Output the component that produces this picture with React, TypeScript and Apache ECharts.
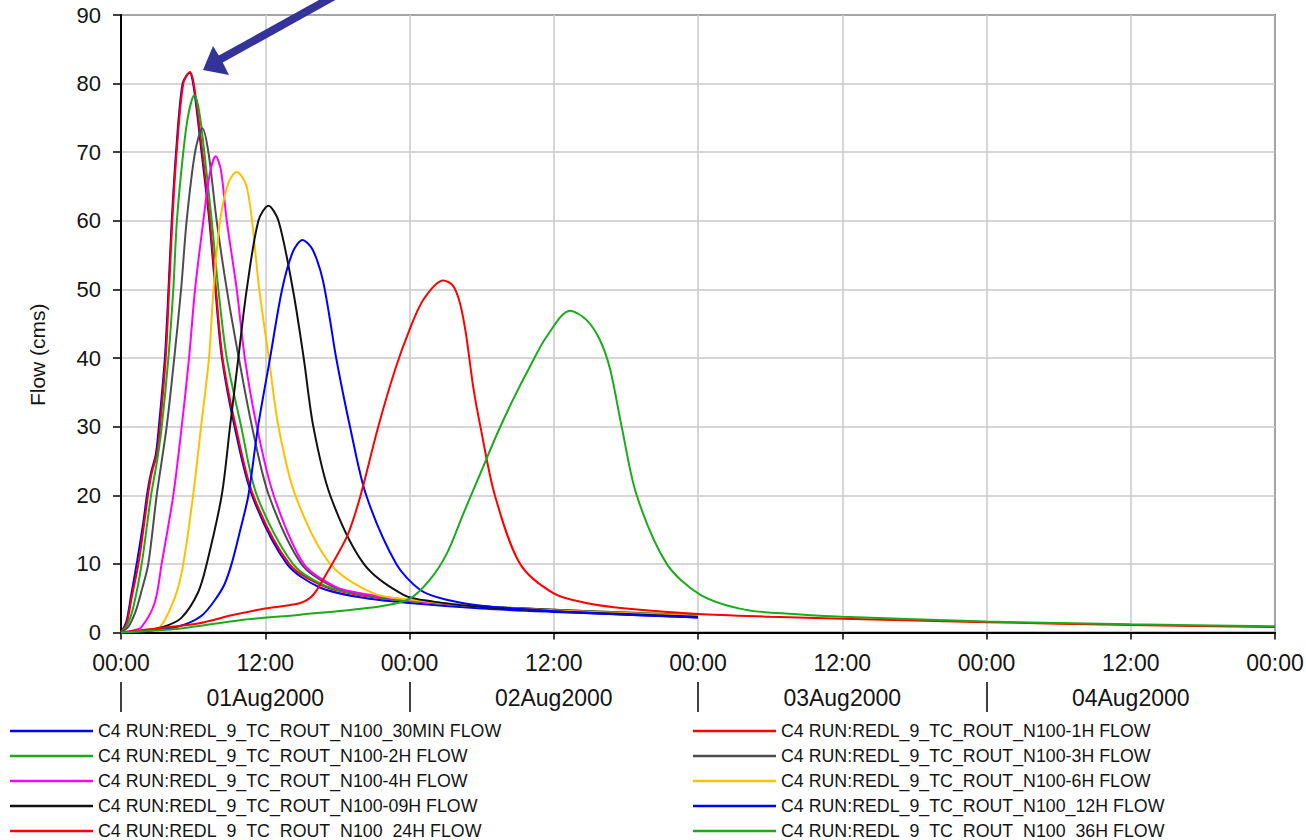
import React, { useEffect, useRef } from "react";
import * as echarts from "echarts";

// ---- data (hours since 01Aug2000 00:00, flow in cms) ----
const seriesNames = [
  "C4 RUN:REDL_9_TC_ROUT_N100_30MIN FLOW",
  "C4 RUN:REDL_9_TC_ROUT_N100-1H FLOW",
  "C4 RUN:REDL_9_TC_ROUT_N100-2H FLOW",
  "C4 RUN:REDL_9_TC_ROUT_N100-3H FLOW",
  "C4 RUN:REDL_9_TC_ROUT_N100-4H FLOW",
  "C4 RUN:REDL_9_TC_ROUT_N100-6H FLOW",
  "C4 RUN:REDL_9_TC_ROUT_N100-09H FLOW",
  "C4 RUN:REDL_9_TC_ROUT_N100_12H FLOW",
  "C4 RUN:REDL_9_TC_ROUT_N100_24H FLOW",
  "C4 RUN:REDL_9_TC_ROUT_N100_36H FLOW",
];

const seriesColors = [
  "#0000ff", "#ff0000", "#1aaa1a", "#4d4d4d", "#ff00ff",
  "#ffc000", "#111111", "#0000ff", "#ff0000", "#1aaa1a",
];

const flow30min = [
  [0, 0], [0.45, 1.6], [0.85, 5.5], [1.35, 10.5], [1.85, 16], [2.2, 20.5], [2.5, 23.3],
  [2.9, 26], [3.15, 30], [3.65, 40], [3.95, 50], [4.22, 60], [4.58, 70], [5.12, 80],
  [5.7, 81.6], [6.05, 79.5], [6.7, 70], [7.35, 60], [7.85, 50], [8.4, 40], [9.45, 30],
  [10.9, 20], [13.8, 10], [16.5, 6.6], [20, 5.1], [24, 4.3], [30, 3.5], [36, 3.0],
  [42, 2.6], [48, 2.2],
];

const flow1h = [
  [0, 0], [0.47, 1.3], [0.9, 5.2], [1.45, 10], [1.9, 15.5], [2.27, 20.3], [2.55, 23.2],
  [2.97, 25.9], [3.24, 29.9], [3.72, 40], [4.0, 50], [4.27, 60], [4.63, 70], [5.18, 80],
  [5.74, 81.7], [6.1, 79.5], [6.77, 70], [7.4, 60], [7.9, 50], [8.45, 40], [9.55, 30],
  [11.0, 20], [14.0, 10], [16.8, 6.8], [20, 5.4], [24, 4.6], [30, 3.8], [36, 3.3],
  [42, 2.9], [48, 2.5],
];

const flow2h = [
  [0, 0], [0.5, 1], [1, 3.5], [1.72, 10], [2.5, 20], [3.0, 25], [3.39, 30], [3.94, 40],
  [4.35, 50], [4.65, 60], [5.18, 70], [5.6, 75.5], [6.1, 78.3], [6.5, 76], [6.93, 70],
  [7.55, 60], [8.1, 50], [8.8, 40], [10.0, 30], [11.3, 20], [14.3, 10], [17, 6.8],
  [20, 5.5], [24, 4.6], [30, 3.8], [36, 3.3], [42, 2.9], [48, 2.5],
];

const flow3h = [
  [0, 0], [0.6, 0.8], [1.2, 3], [1.7, 6], [2.27, 10], [2.97, 20], [3.8, 30], [4.43, 40],
  [5.0, 50], [5.46, 60], [6.16, 70], [6.77, 73.5], [7.27, 70], [7.96, 60], [8.8, 50],
  [9.8, 40], [10.9, 30], [12.3, 20], [15.0, 10], [17.5, 6.8], [20, 5.6], [24, 4.7],
  [30, 3.8], [36, 3.3], [42, 2.8], [48, 2.4],
];

const flow4h = [
  [0, 0], [1, 0.3], [1.7, 0.8], [2.8, 4.3], [3.38, 10], [4.35, 20], [5.05, 30], [5.66, 40],
  [6.16, 50], [6.85, 60], [7.4, 67], [7.88, 69.4], [8.3, 67.5], [8.8, 60], [9.63, 50],
  [10.3, 40], [11.3, 30], [12.7, 20], [15.2, 10], [17.9, 6.6], [20, 5.7], [24, 4.7],
  [30, 3.8], [36, 3.2], [42, 2.8], [48, 2.4],
];

const flow6h = [
  [0, 0], [1.5, 0.2], [3.1, 0.6], [4.5, 5.2], [5.18, 10], [6.0, 20], [6.66, 30], [7.32, 40],
  [7.7, 50], [8.24, 60], [8.93, 65.5], [9.62, 67.1], [10.4, 65.3], [10.9, 60], [11.5, 50],
  [12.3, 40], [13.1, 30], [14.5, 20], [17.4, 10], [21, 5.7], [24, 4.8], [30, 3.8],
  [36, 3.2], [42, 2.8], [48, 2.4],
];

const flow09h = [
  [0, 0], [2, 0.3], [3.5, 0.8], [5.0, 2.1], [6.4, 5.8], [7.13, 10], [8.38, 20], [9.07, 30],
  [9.76, 40], [10.46, 50], [11.43, 60], [12.26, 62.2], [13.1, 60], [14.3, 50], [15.2, 40],
  [16.0, 30], [17.4, 20], [20.2, 10], [23.5, 5.5], [26, 4.5], [30, 3.7], [36, 3.1],
  [42, 2.7], [48, 2.3],
];

const flow12h = [
  [0, 0], [2, 0.2], [4, 0.6], [5.5, 1.3], [6.8, 2.6], [7.8, 4.7], [8.6, 7], [9.2, 10],
  [9.9, 14.8], [10.6, 20], [11.4, 30], [12.4, 40], [13.4, 50], [14.3, 55.5], [15.1, 57.2],
  [15.8, 56.2], [16.3, 54.3], [16.8, 51.3], [17.3, 46.5], [17.9, 40], [19.05, 30],
  [20.4, 20], [22.9, 10], [24.9, 6.2], [27, 4.8], [30, 3.9], [36, 3.1], [42, 2.6],
  [48, 2.2],
];

const flow24h = [
  [0, 0], [1, 0.2], [3, 0.6], [6.4, 1.3], [9.2, 2.5], [12, 3.5], [14.9, 4.3], [16, 5.5],
  [17.1, 8.6], [18.8, 14], [19.9, 19.8], [21.4, 30], [22.8, 38.3], [24, 44.1], [25.15, 48.5],
  [26.8, 51.3], [27.6, 50.6], [28.2, 48], [28.7, 43.5], [29.3, 35.8], [29.9, 30], [31.1, 20],
  [33.2, 10], [36, 5.7], [38.7, 4.3], [42, 3.5], [48, 2.7], [54, 2.3], [60, 2.0], [72, 1.5],
  [84, 1.1], [96, 0.8],
];

const flow36h = [
  [0, 0], [2, 0.2], [5, 0.6], [9.9, 1.8], [14.9, 2.6], [21.5, 3.8], [24, 4.9], [25.7, 7.7],
  [27.1, 11.5], [28.5, 17.4], [29.9, 23.2], [31.3, 29], [32.6, 33.9], [34.0, 38.7],
  [35.4, 43.1], [37.35, 46.9], [38.7, 45.6], [39.85, 42.6], [40.7, 38.3], [41.65, 30],
  [42.9, 20], [45.4, 10], [48.2, 5.5], [52, 3.3], [56, 2.7], [60, 2.3], [72, 1.6],
  [84, 1.2], [96, 0.9],
];

const seriesData = [
  flow30min, flow1h, flow2h, flow3h, flow4h, flow6h, flow09h, flow12h, flow24h, flow36h,
];

const dateLabels = ["", "01Aug2000", "", "02Aug2000", "", "03Aug2000", "", "04Aug2000", ""];
const yTitle = "Flow (cms)";

const FONT = "'Liberation Sans', Arial, sans-serif";
const TEXT = "#141414";

export default function App() {
  const ref = useRef<HTMLDivElement>(null);

  useEffect(() => {
    const chart = echarts.init(ref.current!, null, { renderer: "svg" });

    const series = seriesData.map((d, i) => ({
      type: "line",
      name: seriesNames[i],
      data: d,
      xAxisIndex: 0,
      yAxisIndex: 0,
      symbol: "none",
      showSymbol: false,
      smooth: 0.3,
      lineStyle: { color: seriesColors[i], width: 2 },
      itemStyle: { color: seriesColors[i] },
      z: 3,
    }));

    const legendBase = {
      orient: "vertical",
      top: 722,
      height: 200,
      padding: 0,
      icon: "rect",
      itemWidth: 83,
      itemHeight: 2.5,
      itemGap: 7,
      selectedMode: false,
      textStyle: { fontSize: 17.8, color: TEXT, fontFamily: FONT },
    };

    chart.setOption({
      animation: false,
      backgroundColor: "#ffffff",
      textStyle: { fontFamily: FONT },
      grid: {
        left: 121,
        right: 31,
        top: 15,
        bottom: 207.5,
        show: true,
        borderColor: "#000",
        borderWidth: 1.5,
        outerBoundsMode: "none",
      },
      xAxis: [
        {
          type: "value",
          min: 0,
          max: 96,
          interval: 12,
          axisLine: { show: true, lineStyle: { color: "#000", width: 2 } },
          axisTick: { show: true, length: 7, lineStyle: { color: "#000", width: 1.5 } },
          splitLine: { show: true, lineStyle: { color: "#c8c8c8", width: 1.5 } },
          axisLabel: {
            margin: 19,
            fontSize: 23,
            color: TEXT,
            fontFamily: FONT,
            formatter: (v: number) => (v % 24 === 12 ? "12:00" : "00:00"),
          },
        },
        {
          type: "category",
          position: "bottom",
          offset: 49.5,
          data: dateLabels,
          boundaryGap: false,
          axisLine: { show: false },
          axisTick: {
            show: true,
            length: 30,
            interval: (i: number) => i % 2 === 0 && i < 8,
            lineStyle: { color: "#000", width: 1.5 },
          },
          splitLine: { show: false },
          axisLabel: {
            interval: 0,
            margin: 4,
            fontSize: 23,
            color: TEXT,
            fontFamily: FONT,
          },
        },
      ],
      yAxis: {
        type: "value",
        min: 0,
        max: 90,
        interval: 10,
        name: yTitle,
        nameLocation: "middle",
        nameGap: 73,
        nameTextStyle: {
          fontSize: 21,
          color: TEXT,
          fontFamily: FONT,
          padding: [0, 62, 0, 0],
        },
        axisLine: { show: true, lineStyle: { color: "#000", width: 2 } },
        axisTick: { show: true, length: 8, lineStyle: { color: "#000", width: 1.5 } },
        splitLine: { show: true, lineStyle: { color: "#c8c8c8", width: 1.5 } },
        axisLabel: { margin: 20, fontSize: 22, color: TEXT, fontFamily: FONT },
      },
      legend: [
        {
          ...legendBase,
          left: 10,
          data: [seriesNames[0], seriesNames[2], seriesNames[4], seriesNames[6], seriesNames[8]],
        },
        {
          ...legendBase,
          left: 693,
          data: [seriesNames[1], seriesNames[3], seriesNames[5], seriesNames[7], seriesNames[9]],
        },
      ],
      graphic: [
        {
          type: "line",
          z: 100,
          shape: { x1: 338, y1: -6, x2: 219, y2: 60 },
          style: { stroke: "#333399", lineWidth: 8 },
        },
        {
          type: "polygon",
          z: 100,
          shape: { points: [[203, 70], [213, 46], [221, 59], [229, 75]] },
          style: { fill: "#333399" },
        },
      ],
      series,
    });

    return () => chart.dispose();
  }, []);

  return (
    <div
      ref={ref}
      style={{ position: "fixed", left: 0, top: 0, width: 1306, height: 840 }}
    />
  );
}
